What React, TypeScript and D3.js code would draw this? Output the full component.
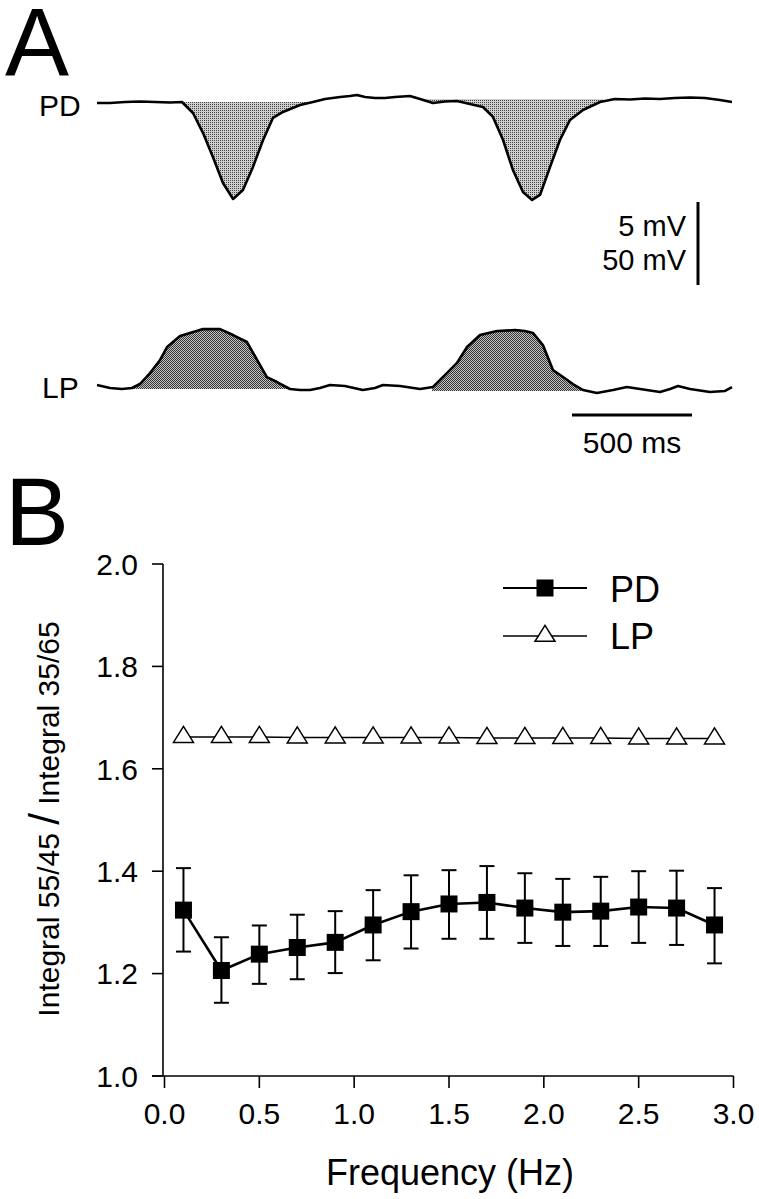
import React from 'react';
import * as d3 from 'd3';

// ---------- Panel A: example traces (time in ms, voltage in mV) ----------
const pdTraceTime = [0, 54, 117, 179, 242, 304, 354, 400, 442, 483, 525, 567, 608, 650, 692, 733, 775, 846, 900, 950, 1013, 1054, 1083, 1117, 1158, 1200, 1242, 1304, 1346, 1400, 1450, 1500, 1554, 1608, 1650, 1692, 1733, 1775, 1813, 1846, 1888, 1929, 1971, 2025, 2096, 2158, 2221, 2283, 2346, 2408, 2471, 2533, 2596, 2646];
const pdTraceMv = [0, 0, 0.06, 0.09, 0.06, 0.03, 0.06, -0.6, -1.81, -3.25, -4.82, -5.78, -5.24, -3.85, -2.23, -0.9, -0.54, -0.12, 0.06, 0.24, 0.36, 0.42, 0.48, 0.36, 0.3, 0.3, 0.36, 0.42, 0.24, 0, 0.09, 0.12, -0.06, -0.24, -0.84, -2.23, -4.03, -5.36, -5.84, -5.54, -3.85, -2.23, -1.02, -0.42, 0.06, 0.24, 0.21, 0.27, 0.24, 0.3, 0.33, 0.3, 0.18, 0.06];
const lpTraceTime = [0, 54, 104, 146, 179, 221, 263, 292, 346, 442, 513, 567, 625, 667, 708, 750, 804, 846, 888, 929, 971, 1033, 1108, 1158, 1192, 1263, 1346, 1400, 1458, 1500, 1542, 1596, 1667, 1742, 1783, 1817, 1858, 1900, 1942, 1983, 2025, 2083, 2150, 2208, 2263, 2346, 2388, 2421, 2471, 2554, 2617, 2646];
const lpTraceMv = [3.0, 1.2, 0.6, 1.2, 3.6, 10.2, 18.1, 25.9, 32.5, 36.7, 36.7, 33.1, 28.9, 18.1, 7.8, 4.8, 0.6, 0, 0, 1.2, 3.0, 2.4, 0, 1.2, 3.0, 2.4, 0.6, 1.8, 10.2, 16.3, 25.9, 33.1, 35.5, 36.1, 35.5, 34.3, 27.1, 12.0, 7.8, 3.6, 0, -1.8, 0, 1.8, 0.6, -1.2, 0.6, 2.4, 0.6, -1.2, -0.6, 1.8];
const pdFillWindows = [[354, 900], [1367, 2108]];
const pdFillLevels = [0.06, 0.24];
const lpFillWindows = [[133, 792], [1396, 2025]];
const lpFillLevels = [0.6, -0.6];
const traceLabels = ['PD', 'LP'];
const scaleBarMvLabels = ['5 mV', '50 mV'];
const scaleBarMsLabel = '500 ms';

// ---------- Panel B: ratio vs frequency ----------
const frequencies = [0.1, 0.3, 0.5, 0.7, 0.9, 1.1, 1.3, 1.5, 1.7, 1.9, 2.1, 2.3, 2.5, 2.7, 2.9];
const pdMean = [1.324, 1.206, 1.238, 1.251, 1.261, 1.295, 1.321, 1.336, 1.339, 1.328, 1.32, 1.322, 1.33, 1.328, 1.295];
const pdHigh = [1.406, 1.271, 1.294, 1.315, 1.322, 1.363, 1.392, 1.402, 1.41, 1.396, 1.385, 1.389, 1.4, 1.401, 1.367];
const pdLow = [1.243, 1.143, 1.18, 1.189, 1.201, 1.226, 1.249, 1.268, 1.268, 1.26, 1.254, 1.254, 1.26, 1.256, 1.22];
const lpRatio = [1.662, 1.662, 1.662, 1.661, 1.661, 1.661, 1.661, 1.661, 1.66, 1.66, 1.66, 1.66, 1.659, 1.659, 1.659];
const xTicks = [0, 0.5, 1.0, 1.5, 2.0, 2.5, 3.0];
const xTickLabels = ['0.0', '0.5', '1.0', '1.5', '2.0', '2.5', '3.0'];
const yTicks = [1.0, 1.2, 1.4, 1.6, 1.8, 2.0];
const yTickLabels = ['1.0', '1.2', '1.4', '1.6', '1.8', '2.0'];
const legendLabels = ['PD', 'LP'];

const FONT = 'Liberation Sans, Arial, Helvetica, sans-serif';

export default function App() {
  // Panel A scales
  const tScale = d3.scaleLinear().domain([0, 2646]).range([97, 732]);
  const pdY = d3.scaleLinear().domain([0, -5]).range([103, 186]);
  const lpY = d3.scaleLinear().domain([0, 50]).range([390, 307]);

  const pdPts = pdTraceTime.map((t, i) => [t, pdTraceMv[i]] as [number, number]);
  const lpPts = lpTraceTime.map((t, i) => [t, lpTraceMv[i]] as [number, number]);

  const pdLine = d3.line<[number, number]>().x(d => tScale(d[0])).y(d => pdY(d[1]))(pdPts) || '';
  const lpLine = d3.line<[number, number]>().x(d => tScale(d[0])).y(d => lpY(d[1]))(lpPts) || '';

  // Panel B scales
  const x = d3.scaleLinear().domain([0, 3]).range([164.5, 733.5]);
  const y = d3.scaleLinear().domain([1, 2]).range([1076, 564]);
  const axisX = 163;

  const pdSeries = frequencies.map((f, i) => [f, pdMean[i]] as [number, number]);
  const lpSeries = frequencies.map((f, i) => [f, lpRatio[i]] as [number, number]);
  const lineGen = d3.line<[number, number]>().x(d => x(d[0])).y(d => y(d[1]));

  const sq = 17;
  const triW = 20, triH = 16;
  const tri = (cx: number, cy: number) =>
    `M${cx},${cy - (triH * 2) / 3}L${cx - triW / 2},${cy + triH / 3}L${cx + triW / 2},${cy + triH / 3}Z`;

  const barX0 = 572;
  const msBar = tScale(500) - tScale(0);
  const mvBar = pdY(-5) - pdY(0);

  return (
    <svg width={759} height={1199} style={{ position: 'absolute', left: 0, top: 0, background: '#fff' }}
      fontFamily={FONT}>
      <defs>
        <pattern id="pdDots" width={2} height={2} patternUnits="userSpaceOnUse">
          <rect width={2} height={2} fill="#cfcfcf" />
          <rect width={1} height={1} fill="#444" />
        </pattern>
        <pattern id="lpDots" width={2} height={2} patternUnits="userSpaceOnUse">
          <rect width={2} height={2} fill="#c4c4c4" />
          <rect width={1} height={1} fill="#333" />
          <rect x={1} y={1} width={1} height={1} fill="#333" />
        </pattern>
        {pdFillWindows.map((w, i) => (
          <clipPath id={`pdClip${i}`} key={i}>
            <rect x={tScale(w[0])} y={pdY(pdFillLevels[i])} width={tScale(w[1]) - tScale(w[0])} height={200} />
          </clipPath>
        ))}
        {lpFillWindows.map((w, i) => (
          <clipPath id={`lpClip${i}`} key={i}>
            <rect x={tScale(w[0])} y={lpY(lpFillLevels[i]) - 200} width={tScale(w[1]) - tScale(w[0])} height={200} />
          </clipPath>
        ))}
      </defs>

      {/* Panel letters */}
      <text x={5} y={75} fontSize={96}>A</text>
      <text x={5} y={545} fontSize={96}>B</text>

      {/* Panel A fills */}
      {pdFillWindows.map((w, i) => (
        <path key={`pf${i}`} clipPath={`url(#pdClip${i})`} fill="url(#pdDots)"
          d={d3.area<[number, number]>().x(d => tScale(d[0])).y0(pdY(pdFillLevels[i])).y1(d => pdY(d[1]))(pdPts) || ''} />
      ))}
      {lpFillWindows.map((w, i) => (
        <path key={`lf${i}`} clipPath={`url(#lpClip${i})`} fill="url(#lpDots)"
          d={d3.area<[number, number]>().x(d => tScale(d[0])).y0(lpY(lpFillLevels[i])).y1(d => lpY(d[1]))(lpPts) || ''} />
      ))}
      <path d={pdLine} fill="none" stroke="#000" strokeWidth={2.6} strokeLinejoin="round" />
      <path d={lpLine} fill="none" stroke="#000" strokeWidth={2.6} strokeLinejoin="round" />

      <text x={39} y={116} fontSize={30}>{traceLabels[0]}</text>
      <text x={42} y={398} fontSize={30}>{traceLabels[1]}</text>

      {/* scale bars */}
      <line x1={698} x2={698} y1={202} y2={202 + mvBar} stroke="#000" strokeWidth={3} />
      <text x={686} y={236} fontSize={29} textAnchor="end">{scaleBarMvLabels[0]}</text>
      <text x={686} y={270} fontSize={29} textAnchor="end">{scaleBarMvLabels[1]}</text>
      <line x1={barX0} x2={barX0 + msBar} y1={415} y2={415} stroke="#000" strokeWidth={3} />
      <text x={barX0 + msBar / 2} y={453} fontSize={30} textAnchor="middle">{scaleBarMsLabel}</text>

      {/* Panel B axes */}
      <line x1={axisX} x2={axisX} y1={y(2)} y2={y(1)} stroke="#000" strokeWidth={1.6} />
      <line x1={152} x2={x(3)} y1={y(1)} y2={y(1)} stroke="#000" strokeWidth={1.6} />
      {yTicks.map((v, i) => (
        <g key={`yt${i}`}>
          <line x1={152} x2={axisX} y1={y(v)} y2={y(v)} stroke="#000" strokeWidth={1.6} />
          <text x={138} y={y(v)} dy="0.36em" fontSize={30} textAnchor="end">{yTickLabels[i]}</text>
        </g>
      ))}
      {xTicks.map((v, i) => (
        <g key={`xt${i}`}>
          <line x1={x(v)} x2={x(v)} y1={y(1)} y2={y(1) + 12} stroke="#000" strokeWidth={1.6} />
          <text x={x(v)} y={1124} fontSize={30} textAnchor="middle">{xTickLabels[i]}</text>
        </g>
      ))}
      <text x={450} y={1185} fontSize={36} textAnchor="middle">Frequency (Hz)</text>
      <text transform="translate(59,819) rotate(-90)" fontSize={30} textAnchor="middle">
        <tspan>Integral 55/45 </tspan>
        <tspan fontSize={42}>/</tspan>
        <tspan> Integral 35/65</tspan>
      </text>

      {/* LP series */}
      <path d={lineGen(lpSeries) || ''} fill="none" stroke="#000" strokeWidth={1.5} />
      {lpSeries.map((d, i) => (
        <path key={`lp${i}`} d={tri(x(d[0]), y(d[1]))} fill="#fff" stroke="#000" strokeWidth={1.5} />
      ))}

      {/* PD series */}
      {frequencies.map((f, i) => (
        <g key={`eb${i}`} stroke="#000" strokeWidth={2}>
          <line x1={x(f)} x2={x(f)} y1={y(pdHigh[i])} y2={y(pdLow[i])} />
          <line x1={x(f) - 7.5} x2={x(f) + 7.5} y1={y(pdHigh[i])} y2={y(pdHigh[i])} />
          <line x1={x(f) - 7.5} x2={x(f) + 7.5} y1={y(pdLow[i])} y2={y(pdLow[i])} />
        </g>
      ))}
      <path d={lineGen(pdSeries) || ''} fill="none" stroke="#000" strokeWidth={2.6} />
      {pdSeries.map((d, i) => (
        <rect key={`pd${i}`} x={x(d[0]) - sq / 2} y={y(d[1]) - sq / 2} width={sq} height={sq} fill="#000" />
      ))}

      {/* Legend */}
      <line x1={503} x2={587} y1={588} y2={588} stroke="#000" strokeWidth={2.2} />
      <rect x={545 - sq / 2} y={588 - sq / 2} width={sq} height={sq} fill="#000" />
      <text x={610} y={602} fontSize={36}>{legendLabels[0]}</text>
      <line x1={503} x2={587} y1={636} y2={636} stroke="#000" strokeWidth={1.6} />
      <path d={tri(545, 636)} fill="#fff" stroke="#000" strokeWidth={1.5} />
      <text x={610} y={649} fontSize={36}>{legendLabels[1]}</text>
    </svg>
  );
}
